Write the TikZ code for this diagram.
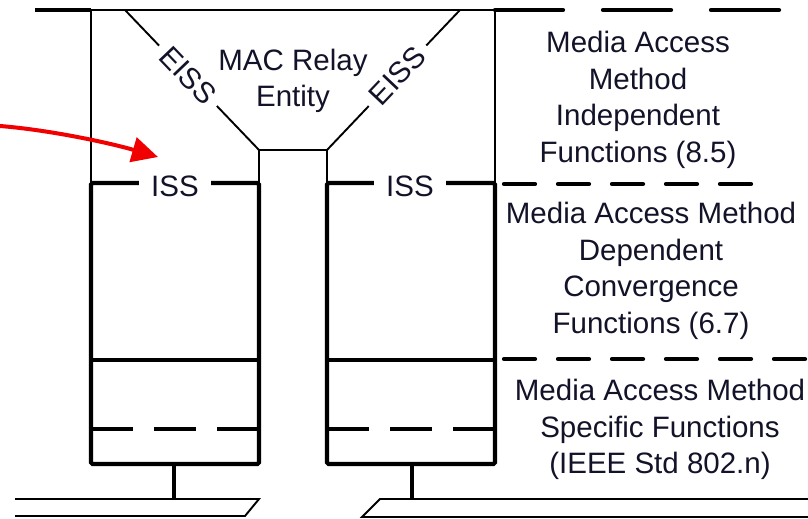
\documentclass[tikz,border=0pt]{standalone}
\usepackage{fontspec}
\setmainfont{Liberation Sans}
\usetikzlibrary{arrows.meta}
\definecolor{txt}{RGB}{18,18,40}
\definecolor{arrowred}{RGB}{240,0,0}
\begin{document}
\begin{tikzpicture}[x=1pt,y=-1pt,
  thinline/.style={line width=1.9pt, black},
  thickline/.style={line width=4.2pt, black},
  boxline/.style={line width=4.2pt, black, rounded corners=1.5pt},
  innerdash/.style={line width=3.6pt, black, dash pattern=on 42pt off 21pt},
  topdash/.style={line width=4.2pt, black, line cap=round, dash pattern=on 68pt off 40pt},
  coldash/.style={line width=4.2pt, black, line cap=round, dash pattern=on 31pt off 23pt},
  lbl/.style={text=txt, font=\fontsize{29.5}{36.5}\selectfont, align=center, inner sep=0pt},
  iss/.style={lbl, fill=white, inner xsep=12pt, inner ysep=0pt},
  eiss/.style={lbl, sloped, fill=white, inner xsep=8pt, inner ysep=0pt},
]
\useasboundingbox (0,0) rectangle (808,519);
% key points
\coordinate (tl) at (35,10);
\coordinate (lt) at (91,10);
\coordinate (rt) at (495,10);
\coordinate (trL) at (125,10);
\coordinate (trR) at (460,10);
\coordinate (bL) at (259,150);
\coordinate (bR) at (327,150);
\coordinate (lbTL) at (91,183);
\coordinate (lbBR) at (259,464);
\coordinate (rbTL) at (327,183);
\coordinate (rbBR) at (495,464);
% top frame
\draw[thickline] (tl) -- (lt);
\draw[thinline] (lt) -- (rt);
\draw[thinline] (lt) -- (lbTL);
\draw[thinline] (rt) -- (rbBR |- lbTL);
% relay trapezoid
\draw[thinline] (trL) -- node[eiss, pos=0.47] (eissL) {EISS} (bL) -- (bR)
  -- node[eiss, pos=0.53] (eissR) {EISS} (trR);
\draw[thinline] (bL) -- (lbBR |- lbTL);
\draw[thinline] (bR) -- (rbTL);
\node[lbl, anchor=north] (mac) at (293,48.5) {MAC Relay\\Entity};
% port boxes
\draw[boxline] (lbTL) rectangle (lbBR);
\draw[boxline] (rbTL) rectangle (rbBR);
\coordinate (lm1) at (91,360); \coordinate (lm2) at (259,360);
\coordinate (ld1) at (91,429); \coordinate (ld2) at (259,429);
\coordinate (rm1) at (327,360); \coordinate (rm2) at (495,360);
\coordinate (rd1) at (327,429); \coordinate (rd2) at (495,429);
\draw[thickline] (lm1) -- (lm2);
\draw[thickline] (rm1) -- (rm2);
\draw[innerdash] (ld1) -- (ld2);
\draw[innerdash] (rd1) -- (rd2);
\node[iss] (issL) at (175,186.5) {ISS};
\node[iss] (issR) at (410,186.5) {ISS};
% right column separators
\coordinate (d1a) at (495,10);  \coordinate (d1b) at (790,10);
\coordinate (d2a) at (504,184); \coordinate (d2b) at (760,184);
\coordinate (d3a) at (504,359); \coordinate (d3b) at (806,359);
\draw[topdash] (d1a) -- (d1b);
\draw[coldash] (d2a) -- (d2b);
\draw[coldash] (d3a) -- (d3b);
\node[lbl, anchor=north] (indep) at (638,31) {Media Access\\Method\\Independent\\Functions (8.5)};
\node[lbl, anchor=north] (dep) at (651,202) {Media Access Method\\Dependent\\Convergence\\Functions (6.7)};
\node[lbl, anchor=north] (spec) at (660,379) {Media Access Method\\Specific Functions\\(IEEE Std 802.n)};
% LAN buses
\coordinate (busL1) at (15,499); \coordinate (busL2) at (259,499);
\coordinate (busL3) at (245,516); \coordinate (busL4) at (15,516);
\coordinate (busR1) at (808,499); \coordinate (busR2) at (380,499);
\coordinate (busR3) at (362,517); \coordinate (busR4) at (808,517);
\draw[thinline] (busL1) -- (busL2) -- (busL3) -- (busL4);
\draw[thinline] (busR1) -- (busR2) -- (busR3) -- (busR4);
\coordinate (stL) at (174,464); \coordinate (stR) at (412,464);
\draw[thickline] (stL) -- (stL |- busL1);
\draw[thickline] (stR) -- (stR |- busR1);
% red pointer
\coordinate (arrS) at (0,126);
\coordinate (arrE) at (158,157);
\draw[arrowred, line width=4pt, -{Triangle[length=26pt, width=25pt]}]
  (arrS) .. controls (50,130) and (110,143) .. (arrE);
\end{tikzpicture}
\end{document}
